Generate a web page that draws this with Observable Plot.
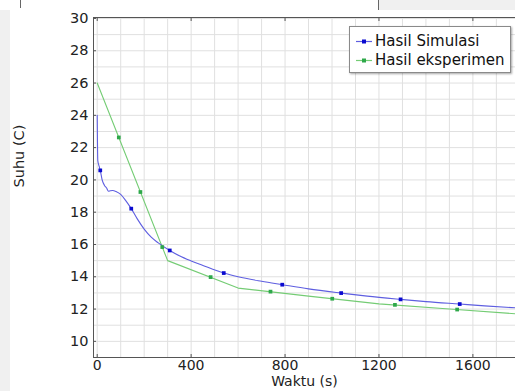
<!DOCTYPE html>
<html><head><meta charset="utf-8">
<script src="https://cdn.jsdelivr.net/npm/d3@7"></script>
<script src="https://cdn.jsdelivr.net/npm/@observablehq/plot@0.6"></script>
<style>
body{margin:0;background:#fff;font-family:"DejaVu Sans",sans-serif;}
#wrap{position:relative;width:515px;height:391px;overflow:hidden;background:#fff;}
#chart{position:absolute;left:0;top:0;}
#leftstrip{position:absolute;left:0;top:10px;width:10px;height:381px;background:#f0f0f0;}
#topbox{position:absolute;left:378px;top:0;width:137px;height:10px;background:#f0f0f0;border-left:1px solid #666;}
#topline{position:absolute;left:20px;top:0;width:1px;height:8px;background:#666;}
#legend{position:absolute;left:349px;top:26px;width:160px;height:45px;background:#fff;border:1px solid #8a8a8a;box-shadow:1px 1px 2px rgba(0,0,0,0.35);font-size:15px;color:#111;}
.row{position:absolute;left:0;height:19px;line-height:19px;white-space:nowrap;}
.row svg{position:absolute;left:6px;top:0;}
.row span{position:absolute;left:25px;top:0;}
</style></head><body>
<div id="wrap">
<div id="leftstrip"></div><div id="topbox"></div><div id="topline"></div>
<div id="chart"></div>
<div id="legend"></div>
</div>
<script>
// Simulation curve (Hasil Simulasi)
const simT = [0, 2.5, 8, 13, 21, 31, 40, 48, 56, 66, 80, 100, 120, 145, 170, 200, 230, 260, 309, 350, 400, 450, 539, 600, 700, 788, 900, 1039, 1150, 1292, 1400, 1544, 1650, 1800];
const simV = [24.0, 21.2, 20.85, 20.59, 20.0, 19.66, 19.5, 19.3, 19.33, 19.34, 19.28, 19.1, 18.75, 18.22, 17.6, 16.95, 16.45, 16.1, 15.63, 15.3, 14.98, 14.7, 14.23, 14.0, 13.72, 13.51, 13.25, 12.99, 12.8, 12.6, 12.46, 12.31, 12.2, 12.06];
const simMarkT = [13, 145, 309, 539, 788, 1039, 1292, 1544];
const simMarkV = [20.59, 18.22, 15.63, 14.23, 13.51, 12.99, 12.60, 12.31];
// Experiment (Hasil eksperimen)
const expT = [0, 300, 600, 900, 1200, 1500, 1800];
const expV = [26.0, 15.0, 13.3, 12.8, 12.32, 12.0, 11.69];
const expMarkT = [92, 184, 277, 483, 738, 1001, 1268, 1533];
const expMarkV = [22.63, 19.25, 15.84, 13.98, 13.08, 12.64, 12.26, 11.97];
// Axes
const xTicks = [0, 400, 800, 1200, 1600];
const yTicks = [10, 12, 14, 16, 18, 20, 22, 24, 26, 28, 30];
const xDomain = [-15.8, 1781.5];
const yDomain = [9, 30.06];
const xLabel = "Waktu (s)";
const yLabel = "Suhu (C)";
const seriesNames = ["Hasil Simulasi", "Hasil eksperimen"];
const lineColors = ["#5e5ee0", "#74cc74"];
const markColors = ["#0a0ad0", "#2ea84a"];

const sim = simT.map((t, i) => ({t, v: simV[i]}));
const simM = simMarkT.map((t, i) => ({t, v: simMarkV[i]}));
const exp = expT.map((t, i) => ({t, v: expV[i]}));
const expM = expMarkT.map((t, i) => ({t, v: expMarkV[i]}));

const gridX = d3.range(0, 1800, 100);
const gridY = d3.range(10, 31, 1);

const chart = Plot.plot({
  width: 515, height: 391,
  marginLeft: 93, marginRight: 0, marginTop: 17, marginBottom: 34,
  x: {domain: xDomain},
  y: {domain: yDomain},
  style: {fontFamily: "DejaVu Sans", fontSize: "14px", color: "#222", background: "transparent"},
  marks: [
    Plot.gridX(gridX, {stroke: "#e0e0e0", strokeOpacity: 1}),
    Plot.gridY(gridY, {stroke: "#e0e0e0", strokeOpacity: 1}),
    Plot.ruleY([yDomain[0], yDomain[1]], {stroke: "#555"}),
    Plot.ruleX([xDomain[0]], {stroke: "#555"}),
    Plot.axisY({ticks: yTicks, tickSize: -3, tickPadding: 8, label: null, stroke: "#555", fontSize: 14.5, tickFormat: d => String(d)}),
    Plot.axisX({ticks: xTicks, anchor: "bottom", tickSize: -3, tickPadding: 6, label: null, stroke: "#555", fontSize: 14, tickFormat: d => String(d)}),
    Plot.axisX({ticks: xTicks, anchor: "top", tickSize: -3, tickFormat: () => "", label: null, stroke: "#555"}),
    Plot.line(exp, {x: "t", y: "v", stroke: lineColors[1], strokeWidth: 1.1}),
    Plot.line(sim, {x: "t", y: "v", stroke: lineColors[0], strokeWidth: 1.1, curve: "monotone-x"}),
    Plot.dot(expM, {x: "t", y: "v", symbol: "square", r: 2.1, fill: markColors[1], stroke: "none"}),
    Plot.dot(simM, {x: "t", y: "v", symbol: "square", r: 2.1, fill: markColors[0], stroke: "none"}),
    Plot.text([xLabel], {frameAnchor: "bottom", dy: 28, fontSize: 14, fill: "#222"}),
    Plot.text([yLabel], {frameAnchor: "left", dx: -74, rotate: -90, fontSize: 14.5, fill: "#222"})
  ]
});
document.getElementById("chart").appendChild(chart);

const leg = document.getElementById("legend");
seriesNames.forEach((name, i) => {
  const row = document.createElement("div");
  row.className = "row";
  row.style.top = (5 + i * 19) + "px";
  row.style.width = "160px";
  row.innerHTML = `<svg width="16" height="19"><line x1="0" x2="16" y1="9.5" y2="9.5" stroke="${lineColors[i]}" stroke-width="1.2"/><rect x="6" y="7.5" width="4" height="4" fill="${markColors[i]}"/></svg><span>${name}</span>`;
  leg.appendChild(row);
});
</script>
</body></html>
